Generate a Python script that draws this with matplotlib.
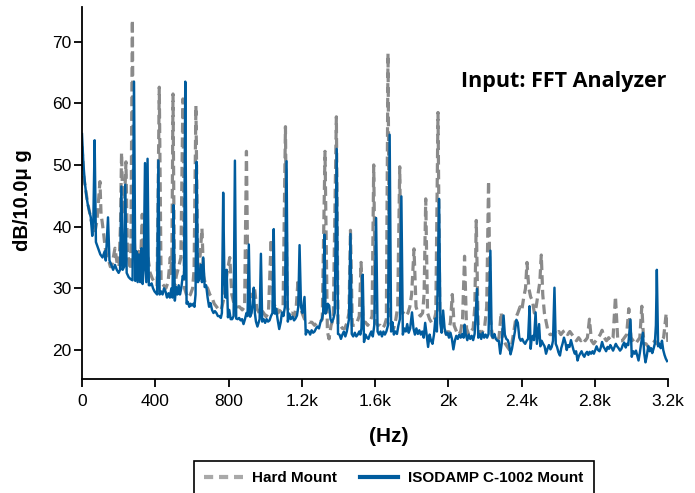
import numpy as np
import matplotlib
matplotlib.use("Agg")
import matplotlib.pyplot as plt
from matplotlib.lines import Line2D

# ---- data: (frequency Hz, level dB) ----
HARD_MOUNT = [
    (0, 53), (10, 48), (20, 46), (30, 44), (40, 42.5), (50, 41), (60, 40), (70, 39), (82, 41),
    (98, 47.3), (104, 42), (110, 40.8), (118, 38.9), (126, 36.7), (136, 35), (145, 34.6),
    (155, 33.5), (165, 34), (180, 36.5), (192, 34), (202, 33.5), (210, 40), (216, 52), (222, 44),
    (230, 42), (240, 50.5), (248, 36), (258, 34), (266, 33), (275, 73.5), (282, 40), (290, 35),
    (300, 33), (310, 36), (320, 34), (329, 42), (338, 33), (348, 34), (360, 35), (372, 32.5),
    (385, 31.5), (398, 31), (410, 30.5), (422, 62.6), (432, 31), (445, 30.5), (458, 30),
    (470, 31), (482, 35), (490, 32), (497, 61.5), (505, 30), (515, 32), (528, 33.5), (540, 35),
    (551, 60.7), (560, 30), (570, 29), (580, 28.5), (592, 29), (604, 30), (612, 33), (622, 59.6),
    (632, 33), (642, 34), (655, 39.7), (664, 32), (675, 30.5), (686, 30), (698, 29), (710, 28.5),
    (722, 27.5), (735, 27), (748, 26.5), (760, 26.5), (772, 28), (785, 31), (795, 33), (807, 35),
    (818, 29), (830, 27.5), (845, 27), (860, 27), (875, 26.5), (888, 27), (898, 52.2), (906, 30),
    (918, 29), (930, 28.6), (942, 30), (955, 26.7), (968, 26), (980, 26.5), (992, 26),
    (1005, 25.4), (1018, 26), (1033, 38), (1045, 27), (1058, 27.5), (1070, 26), (1085, 26.5),
    (1098, 27), (1111, 56.2), (1120, 27), (1132, 26), (1145, 26), (1158, 25.5), (1170, 27),
    (1180, 31.5), (1190, 27), (1202, 26), (1215, 25), (1228, 24.9), (1240, 24.5), (1255, 24.5),
    (1270, 24), (1285, 24.5), (1300, 24.5), (1312, 25), (1327, 52.2), (1340, 23), (1349, 21.8),
    (1360, 24), (1372, 25), (1389, 57.8), (1398, 24), (1410, 24), (1422, 23.5), (1435, 23.5),
    (1448, 24.5), (1458, 26), (1466, 39.4), (1476, 24), (1490, 24), (1502, 24.5), (1514, 25.5),
    (1524, 34.2), (1535, 24.5), (1548, 24.5), (1560, 24), (1572, 24.5), (1584, 25.5), (1593, 50),
    (1603, 24.5), (1615, 24), (1628, 24), (1640, 23.5), (1652, 24), (1662, 25), (1671, 68.1),
    (1680, 25), (1690, 24), (1702, 23.5), (1714, 25), (1724, 27), (1735, 49.7), (1745, 26),
    (1756, 26), (1768, 25.5), (1780, 26), (1790, 27), (1800, 29), (1813, 36.4), (1824, 27),
    (1835, 26), (1848, 25.5), (1860, 26), (1868, 29), (1877, 44.5), (1887, 26), (1898, 25),
    (1910, 24.4), (1922, 24.6), (1932, 26), (1944, 58.5), (1954, 26), (1965, 24), (1977, 23.5),
    (1990, 22.5), (2002, 23), (2012, 24.5), (2022, 29), (2032, 24), (2045, 23), (2056, 22.5),
    (2068, 23), (2078, 25), (2089, 35.2), (2100, 23.5), (2112, 22.5), (2124, 23), (2136, 23.5),
    (2145, 27), (2153, 41), (2163, 24), (2175, 22.5), (2187, 23), (2198, 23.5), (2210, 27),
    (2220, 47.4), (2230, 25), (2242, 22), (2254, 22), (2265, 21.5), (2277, 22), (2289, 26.1),
    (2300, 22), (2312, 21), (2323, 20.5), (2335, 20), (2347, 21), (2358, 23), (2370, 25.3),
    (2380, 26), (2392, 27), (2402, 26.5), (2412, 28.5), (2422, 30), (2430, 34.2), (2440, 30),
    (2450, 28.6), (2460, 28), (2470, 26), (2480, 27), (2490, 29), (2500, 31), (2508, 35.4),
    (2516, 29), (2525, 26), (2535, 24.5), (2545, 23), (2556, 22.5), (2568, 22.5), (2580, 23),
    (2592, 22.5), (2604, 23), (2615, 22.5), (2628, 23), (2640, 23.2), (2652, 22.5), (2664, 23),
    (2676, 22.5), (2688, 22), (2700, 21.5), (2712, 22), (2724, 21.5), (2736, 22), (2748, 21.5),
    (2760, 22), (2771, 25), (2782, 21.5), (2794, 21), (2806, 21.5), (2818, 22), (2830, 22.5),
    (2840, 23.2), (2852, 22), (2864, 21.5), (2876, 22), (2888, 21.5), (2900, 22), (2913, 28.7),
    (2925, 22), (2937, 21.5), (2950, 21.5), (2962, 22), (2974, 22.5), (2986, 26.7), (2998, 22),
    (3010, 21.5), (3022, 21), (3034, 21.5), (3046, 22), (3057, 27.1), (3068, 21), (3080, 21),
    (3092, 20.5), (3104, 20.5), (3116, 21), (3128, 21.5), (3140, 21), (3152, 21), (3164, 21.5),
    (3176, 22), (3190, 25.9), (3200, 21),
]

ISODAMP_MOUNT = [
    (0, 55), (8, 50), (16, 47), (24, 45), (32, 43.5), (40, 42.5), (48, 41.5), (56, 38.5),
    (62, 41), (69, 54), (76, 37.5), (88, 36.5), (100, 35.5), (112, 35), (124, 36), (130, 34.5),
    (142, 41.5), (150, 34.5), (160, 33.8), (170, 33), (180, 33.8), (190, 33), (200, 32.5),
    (208, 33), (215, 46.5), (222, 33), (230, 33.5), (236, 46.8), (244, 32.5), (255, 31.8),
    (265, 31.5), (276, 31.3), (284, 63.5), (291, 31.2), (297, 36), (304, 31), (311, 35.5),
    (318, 31), (325, 36.5), (331, 30.7), (337, 33), (344, 50.3), (351, 31), (358, 51),
    (365, 30.5), (372, 30.5), (380, 30.8), (388, 30), (396, 29.5), (404, 29.2), (410, 29),
    (417, 50.7), (424, 29), (432, 29.5), (440, 29), (448, 30), (456, 29.5), (464, 28.5),
    (472, 29.2), (480, 28.5), (488, 30), (494, 28.5), (500, 43.5), (507, 28), (514, 30.2),
    (521, 29), (528, 30.5), (535, 29), (542, 30), (550, 32), (557, 31.5), (564, 63.5),
    (571, 27.5), (578, 27.8), (586, 27), (593, 27.5), (600, 27.2), (608, 27.5), (614, 27),
    (620, 29), (626, 50.5), (633, 31), (640, 31.5), (648, 33.8), (655, 31), (662, 35),
    (670, 30.2), (678, 30.5), (686, 28.5), (694, 27), (702, 27.6), (710, 26.5), (718, 26),
    (726, 26.3), (734, 26), (742, 25.5), (750, 25.5), (758, 25.2), (764, 26), (771, 45.5),
    (778, 30.9), (784, 28.5), (790, 33), (797, 25.3), (804, 26.5), (812, 25), (820, 25),
    (828, 25.5), (835, 50.7), (842, 25.1), (850, 25), (858, 25.2), (866, 24.8), (874, 25),
    (882, 24.2), (890, 25), (898, 26), (904, 25.5), (911, 37.1), (918, 25.4), (926, 26),
    (932, 27.5), (938, 30.1), (944, 26), (950, 24.6), (958, 23.8), (965, 24.5), (970, 25),
    (977, 35.6), (984, 24.6), (992, 25), (1000, 24.4), (1008, 25), (1016, 24.6), (1024, 24.8),
    (1032, 25.5), (1040, 26), (1047, 39.6), (1053, 25.9), (1060, 26.7), (1068, 25), (1077, 23.4),
    (1085, 24.5), (1092, 26.1), (1100, 25.5), (1108, 27), (1117, 50.6), (1124, 24.6),
    (1132, 25.9), (1140, 25), (1150, 25.4), (1158, 24.8), (1166, 25.1), (1174, 25.6), (1181, 27),
    (1188, 37), (1196, 27), (1204, 26), (1215, 28.6), (1222, 22.5), (1230, 23.2), (1238, 23),
    (1246, 22.5), (1254, 23.2), (1262, 22.8), (1270, 23), (1278, 23.5), (1286, 23.8),
    (1294, 23.5), (1302, 24.5), (1310, 25), (1317, 26), (1324, 38.7), (1330, 25.9), (1336, 26.5),
    (1342, 27.5), (1350, 27.2), (1357, 25), (1364, 24.5), (1372, 25), (1380, 26), (1391, 52.6),
    (1398, 22.6), (1406, 22.5), (1414, 21.8), (1422, 22.5), (1430, 23), (1438, 22.2), (1446, 23),
    (1452, 24), (1458, 25), (1466, 38.8), (1473, 22.6), (1481, 22.2), (1490, 22.8), (1498, 22.2),
    (1506, 22.5), (1514, 23), (1520, 22.5), (1526, 23.5), (1533, 32.2), (1540, 21.3),
    (1548, 22.5), (1556, 22), (1564, 21.8), (1572, 22.5), (1580, 23), (1588, 22.2), (1596, 24),
    (1606, 41.4), (1614, 23), (1622, 22.5), (1630, 23), (1638, 22.2), (1646, 23), (1654, 22.5),
    (1662, 23), (1671, 24), (1680, 54.9), (1688, 23), (1695, 24.5), (1703, 22.5), (1711, 23),
    (1720, 22.6), (1728, 24), (1736, 25), (1744, 44.9), (1752, 22.5), (1760, 23.5), (1768, 23),
    (1776, 24.2), (1784, 22.8), (1792, 23.5), (1802, 26.1), (1810, 23.5), (1818, 22.5),
    (1826, 23.5), (1834, 22.6), (1842, 23.2), (1850, 22.5), (1858, 23), (1866, 22), (1874, 24.4),
    (1882, 22.5), (1890, 20.5), (1898, 22.5), (1906, 21.5), (1914, 21), (1922, 22.5),
    (1930, 25.1), (1938, 23), (1950, 44.5), (1957, 24.3), (1964, 22.8), (1972, 26.4),
    (1980, 23.5), (1988, 22.5), (1996, 22.8), (2004, 22), (2012, 22.8), (2020, 21.8),
    (2028, 20.1), (2036, 21.5), (2044, 22.3), (2052, 21.8), (2060, 22.5), (2068, 22),
    (2076, 22.6), (2084, 22), (2089, 24.1), (2096, 22.5), (2104, 21.6), (2112, 22.5),
    (2120, 21.8), (2128, 22.3), (2136, 21.6), (2144, 22.6), (2157, 29.9), (2164, 22),
    (2172, 22.6), (2180, 21.8), (2188, 22.8), (2196, 22), (2204, 22.5), (2212, 22), (2220, 22.6),
    (2230, 36.1), (2237, 22.3), (2245, 22), (2252, 22.6), (2260, 21.8), (2268, 21.5),
    (2276, 21.5), (2284, 19.4), (2292, 21), (2302, 25.6), (2309, 22.5), (2317, 21.8),
    (2325, 21.6), (2333, 20.8), (2340, 19.3), (2348, 20.2), (2356, 21.6), (2364, 23),
    (2372, 24.9), (2380, 24.4), (2388, 22), (2396, 21.5), (2404, 21.8), (2412, 21.3), (2420, 21),
    (2428, 21.5), (2436, 21.8), (2444, 27.1), (2450, 20.2), (2456, 22), (2462, 22.3),
    (2468, 21.6), (2477, 26.1), (2484, 21), (2490, 22.6), (2496, 24.2), (2503, 20.6),
    (2510, 21.5), (2518, 21), (2526, 20.6), (2534, 19.4), (2542, 20.2), (2550, 20.8),
    (2558, 20.1), (2565, 20.5), (2572, 21.5), (2580, 30.1), (2587, 21), (2594, 20.5),
    (2602, 19.6), (2610, 19.1), (2617, 20.3), (2624, 21), (2632, 22), (2640, 21.2), (2647, 20),
    (2654, 20.8), (2662, 20.5), (2670, 21.6), (2677, 20.8), (2684, 20), (2691, 19.4),
    (2698, 19.8), (2706, 18.3), (2713, 19), (2720, 19.4), (2728, 19.8), (2736, 19.2),
    (2743, 18.9), (2750, 19.4), (2758, 19.7), (2765, 19.2), (2772, 19.7), (2780, 19.4),
    (2788, 19.8), (2795, 19.4), (2803, 20), (2810, 20.6), (2818, 20), (2826, 19.8), (2832, 20.3),
    (2840, 21.3), (2848, 20.5), (2855, 20.2), (2862, 19.8), (2870, 20.5), (2878, 20.2),
    (2885, 20.8), (2892, 20.4), (2900, 19.9), (2908, 20.5), (2915, 21), (2922, 20.6),
    (2930, 20.3), (2938, 19.9), (2946, 20.2), (2953, 20.8), (2961, 21.2), (2969, 20.4),
    (2976, 21), (2983, 20.8), (2995, 24.9), (3002, 18.9), (3010, 19.8), (3018, 19.4),
    (3025, 19.9), (3032, 19.1), (3039, 18.3), (3046, 19.5), (3053, 21), (3063, 22.8),
    (3070, 19.5), (3077, 18), (3084, 19), (3092, 20.6), (3100, 19.8), (3107, 20.3), (3114, 19.5),
    (3121, 20.2), (3128, 21), (3134, 24), (3139, 33), (3146, 20.6), (3153, 21), (3160, 20.3),
    (3167, 21.5), (3174, 20), (3181, 19.2), (3188, 18.6), (3195, 18.2),
]

X_TICKS = [0, 400, 800, 1200, 1600, 2000, 2400, 2800, 3200]
X_TICK_LABELS = ["0", "400", "800", "1.2k", "1.6k", "2k", "2.4k", "2.8k", "3.2k"]
Y_TICKS = [20, 30, 40, 50, 60, 70]
SERIES_NAMES = ["Hard Mount", "ISODAMP C-1002 Mount"]

GRAY = "#8a8a8a"
BLUE = "#005c9e"

plt.rcParams["font.family"] = ["Liberation Sans", "DejaVu Sans"]

W, H = 695, 493
fig = plt.figure(figsize=(W / 100, H / 100), dpi=100)
ax = fig.add_axes([82 / W, 1 - 379 / H, (668 - 82) / W, (379 - 7) / H])

hf, hv = np.array(HARD_MOUNT).T
bf, bv = np.array(ISODAMP_MOUNT).T

ax.plot(hf, hv, color=GRAY, lw=2.3, dashes=(3.0, 1.6))
ax.plot(bf, bv, color=BLUE, lw=1.75)

ax.set_xlim(0, 3200)
ax.set_ylim(15.3, 75.6)
ax.set_xticks(X_TICKS)
ax.set_xticklabels(X_TICK_LABELS)
ax.set_yticks(Y_TICKS)
for s in ["top", "right"]:
    ax.spines[s].set_visible(False)
for s in ["left", "bottom"]:
    ax.spines[s].set_linewidth(1.3)
ax.tick_params(axis="both", direction="out", length=6, width=1.3, labelsize=12.5)
ax.tick_params(axis="y", pad=1.5)
ax.tick_params(axis="x", pad=5)

ax.text(1.0 - 2 / 586, 1 - 75 / 372, "Input: FFT Analyzer", transform=ax.transAxes,
        ha="right", va="center", fontsize=15.5, fontweight="bold", family=["Open Sans", "DejaVu Sans"])

fig.text(23 / W, 1 - 200 / H, "dB/10.0\u03bc g", rotation=90, ha="center", va="center",
         fontsize=14.5, fontweight="bold")
fig.text(389 / W, 1 - 437 / H, "(Hz)", ha="center", va="center", fontsize=15, fontweight="bold")

handles = [Line2D([], [], color="#a9a9a9", lw=3, dashes=(2.2, 1.4)),
           Line2D([], [], color=BLUE, lw=3)]
leg = fig.legend(handles, SERIES_NAMES, loc="upper center", bbox_to_anchor=(394 / W, 1 - 461 / H),
                 ncol=2, frameon=True, fancybox=False, shadow=False, framealpha=1,
                 edgecolor="black", prop={"weight": "bold", "size": 11},
                 handlelength=2.5, handletextpad=0.65, columnspacing=1.5, borderpad=0.65,
                 borderaxespad=0)
leg.get_frame().set_linewidth(1.2)

fig.savefig("out.png", dpi=100)
